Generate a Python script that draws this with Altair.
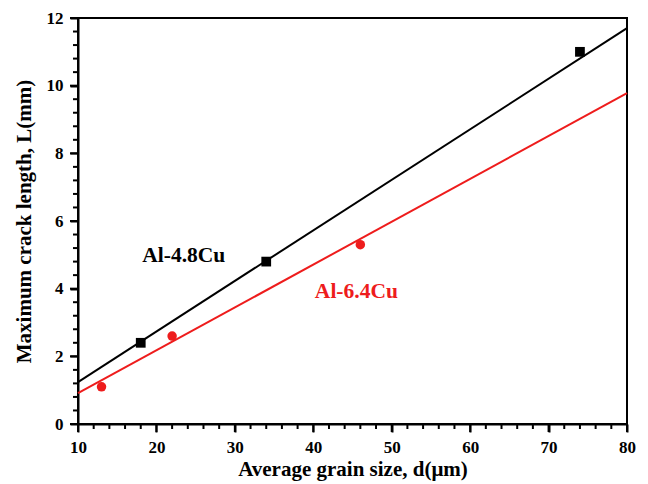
import altair as alt
import pandas as pd

# data
cu48_x = [18, 34, 74]
cu48_y = [2.4, 4.8, 11.0]
cu64_x = [13, 22, 46]
cu64_y = [1.1, 2.6, 5.3]
fit_x = [10, 80]
cu48_fit = [1.24, 11.70]
cu64_fit = [0.91, 9.78]
x_major = [10, 20, 30, 40, 50, 60, 70, 80]
y_major = [0, 2, 4, 6, 8, 10, 12]
x_minor = [12, 14, 16, 18, 22, 24, 26, 28, 32, 34, 36, 38, 42, 44, 46, 48,
           52, 54, 56, 58, 62, 64, 66, 68, 72, 74, 76, 78]
y_minor = [0.4, 0.8, 1.2, 1.6, 2.4, 2.8, 3.2, 3.6, 4.4, 4.8, 5.2, 5.6,
           6.4, 6.8, 7.2, 7.6, 8.4, 8.8, 9.2, 9.6, 10.4, 10.8, 11.2, 11.6]
labels = ["Al-4.8Cu", "Al-6.4Cu"]
label_x = [18.2, 40.2]
label_y = [4.80, 3.72]
colors = ["#000000", "#ee1c1c"]

FONT = "Liberation Serif"
W, H = 549, 406

pts48 = pd.DataFrame({"x": cu48_x, "y": cu48_y})
pts64 = pd.DataFrame({"x": cu64_x, "y": cu64_y})
fit48 = pd.DataFrame({"x": fit_x, "y": cu48_fit})
fit64 = pd.DataFrame({"x": fit_x, "y": cu64_fit})
lab = pd.DataFrame({"x": label_x, "y": label_y, "t": labels, "c": colors})
xmaj_df = pd.DataFrame({"x": x_major})
xmin_df = pd.DataFrame({"x": x_minor})
ymaj_df = pd.DataFrame({"y": y_major})
ymin_df = pd.DataFrame({"y": y_minor})

xscale = alt.Scale(domain=[10, 80], nice=False, zero=False)
yscale = alt.Scale(domain=[0, 12], nice=False, zero=False)

xaxis = alt.Axis(values=x_major, title="Average grain size, d(μm)", grid=False,
                 tickSize=8, tickWidth=2, tickColor="black", domainColor="black",
                 domainWidth=2, labelFont=FONT, labelFontSize=17, labelFontWeight="bold",
                 labelColor="black", titleFont=FONT, titleFontSize=21,
                 titleFontWeight="bold", titleColor="black", labelPadding=7,
                 titlePadding=3, labelFlush=False, orient="bottom")
yaxis = alt.Axis(values=y_major, title="Maximum crack length, L(mm)", grid=False,
                 tickSize=8, tickWidth=2, tickColor="black", domainColor="black",
                 domainWidth=2, labelFont=FONT, labelFontSize=17, labelFontWeight="bold",
                 labelColor="black", titleFont=FONT, titleFontSize=21,
                 titleFontWeight="bold", titleColor="black", labelPadding=7,
                 titlePadding=12, labelFlush=False, orient="left")

X = lambda: alt.X("x:Q", scale=xscale, axis=None)
Y = lambda: alt.Y("y:Q", scale=yscale, axis=None)

line48 = alt.Chart(fit48).mark_line(color=colors[0], strokeWidth=2).encode(
    x=alt.X("x:Q", scale=xscale, axis=xaxis), y=alt.Y("y:Q", scale=yscale, axis=yaxis))
line64 = alt.Chart(fit64).mark_line(color=colors[1], strokeWidth=2).encode(x=X(), y=Y())
sq = alt.Chart(pts48).mark_point(shape="square", filled=True, color=colors[0], size=95,
                                 opacity=1).encode(x=X(), y=Y())
ci = alt.Chart(pts64).mark_point(shape="circle", filled=True, color=colors[1], size=90,
                                 opacity=1).encode(x=X(), y=Y())
txt = alt.Chart(lab).mark_text(align="left", baseline="alphabetic", font=FONT, fontSize=21.5,
                               fontWeight="bold").encode(
    x=X(), y=Y(), text="t:N", color=alt.Color("c:N", scale=None))

# tick marks drawn as small tick marks at the tick values
xmaj = alt.Chart(xmaj_df).mark_tick(color="black", orient="vertical", size=8, thickness=2,
                                    opacity=1).encode(x=X(), y=alt.value(H + 4))
xmin = alt.Chart(xmin_df).mark_tick(color="black", orient="vertical", size=5, thickness=2,
                                    opacity=1).encode(x=X(), y=alt.value(H + 2.5))
ymaj = alt.Chart(ymaj_df).mark_tick(color="black", orient="horizontal", size=8, thickness=2,
                                    opacity=1).encode(y=Y(), x=alt.value(-4))
ymin = alt.Chart(ymin_df).mark_tick(color="black", orient="horizontal", size=5, thickness=2,
                                    opacity=1).encode(y=Y(), x=alt.value(-2.5))

chart = alt.layer(xmaj, xmin, ymaj, ymin, line48, line64, sq, ci, txt).resolve_axis(
    x="independent", y="independent"
).properties(
    width=W, height=H,
    background="white",
    autosize=alt.AutoSizeParams(type="none"),
    padding={"left": 70, "top": 10, "right": 12, "bottom": 58},
).configure_view(stroke="black", strokeWidth=2)

chart.save("out.html", embed_options={"renderer": "svg", "actions": False})
